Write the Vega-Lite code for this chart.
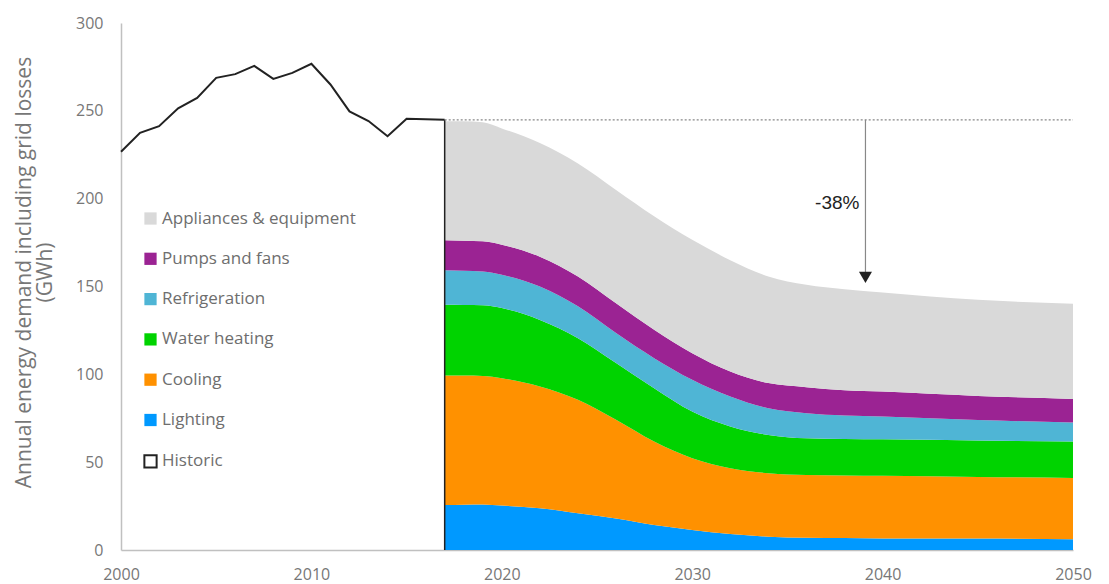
{
  "$schema": "https://vega.github.io/schema/vega-lite/v6.json",
  "width": 952,
  "height": 527,
  "autosize": {"type": "none"},
  "padding": {"left": 121, "top": 23, "right": 36, "bottom": 34},
  "background": "white",
  "config": {
    "view": {"stroke": null},
    "font": "Open Sans",
    "axis": {"grid": false, "ticks": false, "domainColor": "#c0c0c0", "domainWidth": 1.5, "labelColor": "#777777", "labelFont": "Open Sans", "labelFontSize": 16, "titleFont": "Open Sans", "titleColor": "#777777", "titleFontWeight": "normal"}
  },
  "datasets": {
    "cats": [
      {"category": "Lighting", "rank": 1},
      {"category": "Cooling", "rank": 2},
      {"category": "Water heating", "rank": 3},
      {"category": "Refrigeration", "rank": 4},
      {"category": "Pumps and fans", "rank": 5},
      {"category": "Appliances & equipment", "rank": 6}
    ]
  },
  "layer": [
    {
      "data": {"values": [
        {"year": 2017, "Lighting": 25.6, "Cooling": 73.7, "Water heating": 40.3, "Refrigeration": 19.6, "Pumps and fans": 17.1, "Appliances & equipment": 67.7},
        {"year": 2018, "Lighting": 25.8, "Cooling": 73.5, "Water heating": 40.2, "Refrigeration": 19.5, "Pumps and fans": 17.1, "Appliances & equipment": 67.9},
        {"year": 2019, "Lighting": 25.9, "Cooling": 73.2, "Water heating": 40.2, "Refrigeration": 19.3, "Pumps and fans": 17.1, "Appliances & equipment": 67.8},
        {"year": 2020, "Lighting": 25.3, "Cooling": 72.5, "Water heating": 39.9, "Refrigeration": 19.0, "Pumps and fans": 17.1, "Appliances & equipment": 66.2},
        {"year": 2022, "Lighting": 23.7, "Cooling": 69.4, "Water heating": 37.9, "Refrigeration": 19.0, "Pumps and fans": 17.0, "Appliances & equipment": 64.7},
        {"year": 2024, "Lighting": 20.9, "Cooling": 64.6, "Water heating": 35.1, "Refrigeration": 18.1, "Pumps and fans": 17.0, "Appliances & equipment": 64.3},
        {"year": 2026, "Lighting": 18.0, "Cooling": 56.1, "Water heating": 32.3, "Refrigeration": 17.1, "Pumps and fans": 17.0, "Appliances & equipment": 64.5},
        {"year": 2028, "Lighting": 14.2, "Cooling": 47.5, "Water heating": 30.4, "Refrigeration": 17.1, "Pumps and fans": 16.2, "Appliances & equipment": 64.6},
        {"year": 2030, "Lighting": 11.4, "Cooling": 40.8, "Water heating": 26.6, "Refrigeration": 18.1, "Pumps and fans": 15.1, "Appliances & equipment": 64.6},
        {"year": 2032, "Lighting": 9.1, "Cooling": 37.4, "Water heating": 23.8, "Refrigeration": 17.1, "Pumps and fans": 14.2, "Appliances & equipment": 63.4},
        {"year": 2034, "Lighting": 7.6, "Cooling": 36.1, "Water heating": 21.8, "Refrigeration": 15.2, "Pumps and fans": 14.3, "Appliances & equipment": 60.7},
        {"year": 2036, "Lighting": 7.0, "Cooling": 35.7, "Water heating": 20.9, "Refrigeration": 14.3, "Pumps and fans": 14.8, "Appliances & equipment": 58.3},
        {"year": 2038, "Lighting": 6.8, "Cooling": 35.6, "Water heating": 20.8, "Refrigeration": 13.4, "Pumps and fans": 14.3, "Appliances & equipment": 57.6},
        {"year": 2040, "Lighting": 6.6, "Cooling": 35.6, "Water heating": 20.8, "Refrigeration": 13.0, "Pumps and fans": 14.2, "Appliances & equipment": 56.4},
        {"year": 2045, "Lighting": 6.5, "Cooling": 35.1, "Water heating": 20.7, "Refrigeration": 11.7, "Pumps and fans": 13.7, "Appliances & equipment": 54.7},
        {"year": 2050, "Lighting": 6.1, "Cooling": 34.9, "Water heating": 20.7, "Refrigeration": 10.9, "Pumps and fans": 13.4, "Appliances & equipment": 54.2}
      ]},
      "transform": [
        {"fold": ["Lighting", "Cooling", "Water heating", "Refrigeration", "Pumps and fans", "Appliances & equipment"], "as": ["category", "value"]},
        {"lookup": "category", "from": {"data": {"name": "cats"}, "key": "category", "fields": ["rank"]}}
      ],
      "mark": {"type": "area", "interpolate": "monotone"},
      "encoding": {
        "x": {"field": "year", "type": "quantitative", "scale": {"domain": [2000, 2050], "nice": false, "zero": false},
              "axis": {"values": [2000, 2010, 2020, 2030, 2040, 2050], "format": "d", "title": null, "labelPadding": 16, "labelFlush": false}},
        "y": {"field": "value", "type": "quantitative", "stack": "zero", "scale": {"domain": [0, 300], "nice": false},
              "axis": {"values": [0, 50, 100, 150, 200, 250, 300], "title": ["Annual energy demand including grid losses", "(GWh)"], "titleFontSize": 21, "titlePadding": 20, "labelPadding": 18, "titleLineHeight": 21, "titleY": 249}},
        "order": {"field": "rank", "type": "quantitative"},
        "color": {"field": "category", "type": "nominal",
          "scale": {"domain": ["Appliances & equipment", "Pumps and fans", "Refrigeration", "Water heating", "Cooling", "Lighting", "Historic"],
                    "range": ["#d9d9d9", "#9b2393", "#4fb5d5", "#00d300", "#ff9100", "#0099ff", "#ffffff"]},
          "legend": {"orient": "none", "legendX": 21, "legendY": 187, "title": null, "symbolType": "square", "symbolSize": 150,
                     "labelFont": "Open Sans", "labelFontSize": 17, "labelColor": "#6e6e6e", "labelLimit": 400, "rowPadding": 22.3, "labelOffset": 3,
                     "symbolOpacity": 1, "symbolStrokeWidth": 0,
                     "encode": {"symbols": {"update": {"stroke": {"signal": "datum.value === 'Historic' ? '#222222' : 'transparent'"}, "strokeWidth": {"signal": "datum.value === 'Historic' ? 2 : 0"}}}}}}
      }
    },
    {
      "data": {"values": [
        {"year": 2000, "demand": 226.7}, {"year": 2001, "demand": 237.5}, {"year": 2002, "demand": 241.3},
        {"year": 2003, "demand": 251.4}, {"year": 2004, "demand": 257.4}, {"year": 2005, "demand": 268.8},
        {"year": 2006, "demand": 270.9}, {"year": 2007, "demand": 275.6}, {"year": 2008, "demand": 268.2},
        {"year": 2009, "demand": 271.6}, {"year": 2010, "demand": 276.8}, {"year": 2011, "demand": 265.0},
        {"year": 2012, "demand": 249.7}, {"year": 2013, "demand": 244.2}, {"year": 2014, "demand": 235.5},
        {"year": 2015, "demand": 245.5}, {"year": 2016, "demand": 245.2}, {"year": 2017, "demand": 244.9}
      ]},
      "mark": {"type": "line", "color": "#222222", "strokeWidth": 2},
      "encoding": {"x": {"field": "year", "type": "quantitative"}, "y": {"field": "demand", "type": "quantitative"}}
    },
    {
      "data": {"values": [{"year": 2017, "top": 244.9, "bottom": 0}]},
      "mark": {"type": "rule", "color": "#222222", "strokeWidth": 1.5},
      "encoding": {"x": {"field": "year", "type": "quantitative"}, "y": {"field": "top", "type": "quantitative"}, "y2": {"field": "bottom"}}
    },
    {
      "data": {"values": [{"start": 2017, "end": 2050, "level": 244.9}]},
      "mark": {"type": "rule", "color": "#888888", "strokeWidth": 1.2, "strokeDash": [2, 2]},
      "encoding": {"x": {"field": "start", "type": "quantitative"}, "x2": {"field": "end"}, "y": {"field": "level", "type": "quantitative"}}
    },
    {
      "data": {"values": [{"year": 2039.1, "top": 244.9, "bottom": 155}]},
      "mark": {"type": "rule", "color": "#888888", "strokeWidth": 1.2},
      "encoding": {"x": {"field": "year", "type": "quantitative"}, "y": {"field": "top", "type": "quantitative"}, "y2": {"field": "bottom"}}
    },
    {
      "data": {"values": [{"year": 2039.1, "tip": 155.2}]},
      "mark": {"type": "point", "shape": "triangle-down", "filled": true, "color": "#222222", "size": 170, "opacity": 1},
      "encoding": {"x": {"field": "year", "type": "quantitative"}, "y": {"field": "tip", "type": "quantitative"}}
    },
    {
      "data": {"values": [{"year": 2039.1, "pos": 197.5, "label": "-38%"}]},
      "mark": {"type": "text", "align": "right", "baseline": "middle", "dx": -6, "font": "Liberation Sans", "fontSize": 19, "color": "#222222"},
      "encoding": {"x": {"field": "year", "type": "quantitative"}, "y": {"field": "pos", "type": "quantitative"}, "text": {"field": "label"}}
    }
  ]
}
